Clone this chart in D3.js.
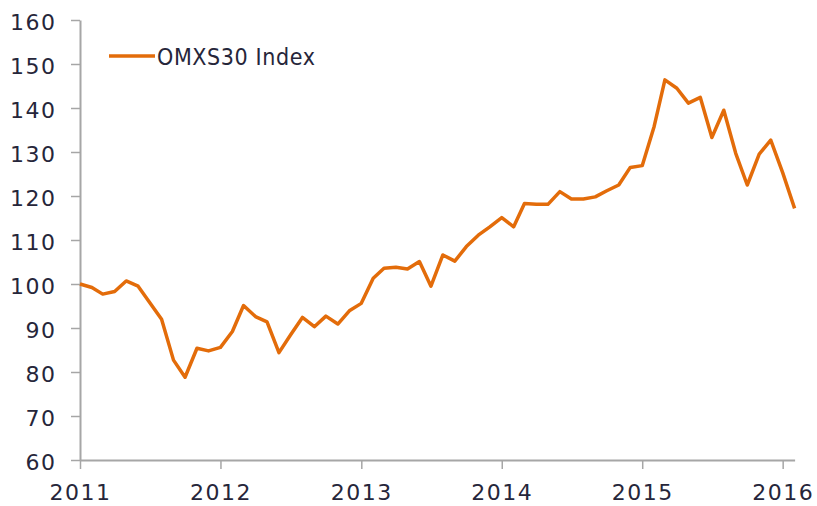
<!DOCTYPE html>
<html>
<head>
<meta charset="utf-8">
<script src="https://cdn.jsdelivr.net/npm/d3@7"></script>
<style>
  html, body { margin: 0; padding: 0; background: #fff; }
  svg { display: block; }
</style>
</head>
<body>
<svg id="chart" width="817" height="506"></svg>
<script>
// ---- data ----
const seriesName = "OMXS30 Index";
const startMonth = "2011-01-01";
const endMonth = "2016-02-01";
const values = [
  100.0, 99.2, 97.7, 98.3, 100.7, 99.5, 95.8, 92.0, 82.7, 78.8, 85.4, 84.8,
  85.6, 89.2, 95.1, 92.6, 91.4, 84.4, 88.4, 92.4, 90.3, 92.7, 90.9, 93.9,
  95.6, 101.3, 103.6, 103.8, 103.4, 105.1, 99.5, 106.6, 105.2, 108.5, 111.1, 113.0,
  115.1, 113.0, 118.3, 118.1, 118.1, 121.0, 119.3, 119.3, 119.8, 121.2, 122.5, 126.5,
  126.9, 135.8, 146.4, 144.5, 141.1, 142.4, 133.3, 139.5, 129.7, 122.5, 129.5, 132.7,
  125.3, 117.2
];
const yTicks = [60, 70, 80, 90, 100, 110, 120, 130, 140, 150, 160];
const xTickYears = [2011, 2012, 2013, 2014, 2015, 2016];

// ---- layout ----
const svg = d3.select("#chart");
const mLeft = 80, mRight = 794.6, mTop = 20, mBottom = 460;
const orange = "#E36C0A";
const axisColor = "#a6a6a6";
const textColor = "#26263a";

const parse = d3.timeParse("%Y-%m-%d");
const start = parse(startMonth), end = parse(endMonth);
const months = d3.timeMonth.range(start, d3.timeMonth.offset(end, 1));
const data = months.map((d, i) => ({ date: d, value: values[i] }));

const x = d3.scaleTime().domain([start, end]).range([mLeft, mRight]);
const y = d3.scaleLinear().domain([60, 160]).range([mBottom, mTop]);

// y axis
const yAxis = svg.append("g")
  .attr("transform", `translate(${mLeft},0)`)
  .call(d3.axisLeft(y).tickValues(yTicks).tickSize(9).tickPadding(14.5).tickSizeOuter(0));
yAxis.select(".domain").attr("stroke", axisColor).attr("stroke-width", 2);
yAxis.selectAll(".tick line").attr("stroke", axisColor).attr("stroke-width", 1.5);
yAxis.selectAll(".tick text")
  .attr("fill", textColor)
  .style("font-family", "'DejaVu Sans', sans-serif")
  .style("font-size", "22px")
  .style("letter-spacing", "1.5px")
  .attr("dy", "0.42em");

// x axis
const xAxis = svg.append("g")
  .attr("transform", `translate(0,${mBottom})`)
  .call(d3.axisBottom(x)
    .tickValues(xTickYears.map(yr => new Date(yr, 0, 1)))
    .tickFormat(d3.timeFormat("%Y"))
    .tickSize(9).tickPadding(15).tickSizeOuter(0));
xAxis.select(".domain").attr("stroke", axisColor).attr("stroke-width", 2);
xAxis.selectAll(".tick line").attr("stroke", axisColor).attr("stroke-width", 1.5);
xAxis.selectAll(".tick text")
  .attr("fill", textColor)
  .style("font-family", "'DejaVu Sans', sans-serif")
  .style("font-size", "22px")
  .style("letter-spacing", "1.5px");

// line
const line = d3.line().x(d => x(d.date)).y(d => y(d.value));
svg.append("path")
  .datum(data)
  .attr("fill", "none")
  .attr("stroke", orange)
  .attr("stroke-width", 3.5)
  .attr("stroke-linejoin", "round")
  .attr("d", line);

// legend
const lg = svg.append("g");
lg.append("line")
  .attr("x1", 109).attr("x2", 155).attr("y1", 56).attr("y2", 56)
  .attr("stroke", orange).attr("stroke-width", 3.5);
lg.append("text")
  .attr("x", 157).attr("y", 65)
  .attr("fill", textColor)
  .style("font-family", "'DejaVu Sans Condensed', 'DejaVu Sans', sans-serif")
  .style("font-stretch", "condensed")
  .style("font-size", "23px")
  .style("letter-spacing", "0.6px")
  .text(seriesName);
</script>
</body>
</html>
